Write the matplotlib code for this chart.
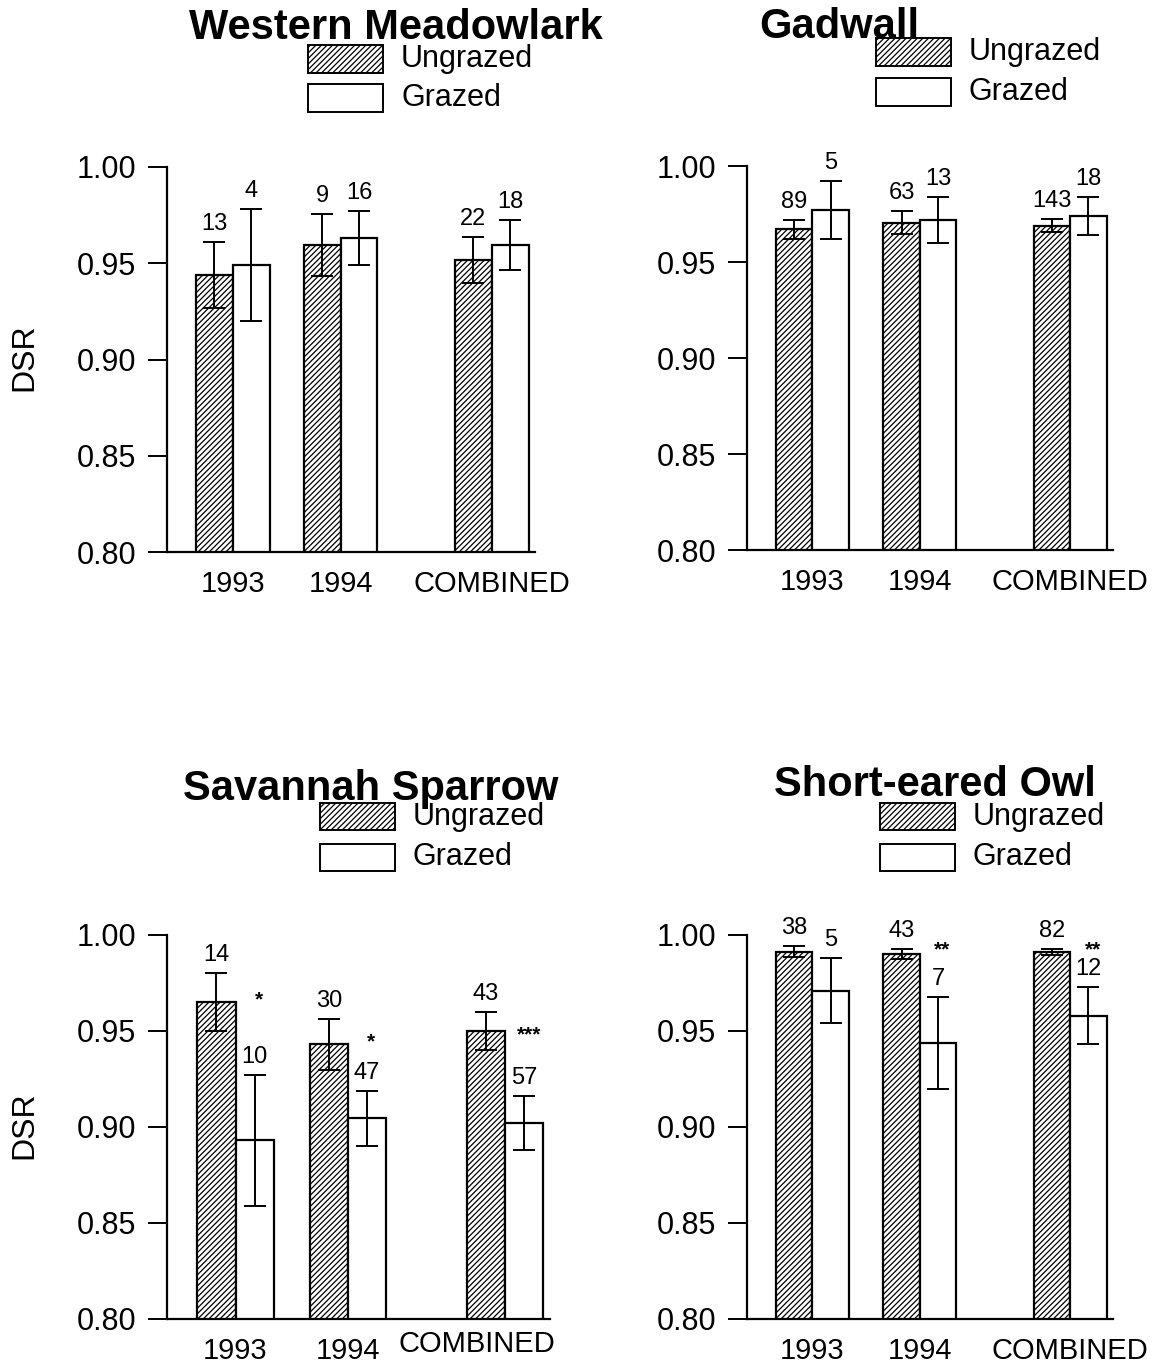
import numpy as np
import matplotlib
matplotlib.use("Agg")
import matplotlib.pyplot as plt
import matplotlib.transforms as mtransforms
from matplotlib.patches import Rectangle

plt.rcParams['font.family'] = ['Liberation Sans', 'DejaVu Sans']
plt.rcParams['hatch.linewidth'] = 0.9

# data
groups = ['1993', '1994', 'COMBINED']
titles = ['Western Meadowlark', 'Gadwall', 'Savannah Sparrow', 'Short-eared Owl']

ungrazed = [
    [0.944, 0.9595, 0.9515],
    [0.967, 0.9705, 0.969],
    [0.965, 0.943, 0.950],
    [0.9913, 0.990, 0.991],
]
ungrazed_se = [
    [0.017, 0.016, 0.012],
    [0.005, 0.006, 0.0035],
    [0.015, 0.0135, 0.010],
    [0.003, 0.0026, 0.0016],
]
grazed = [
    [0.949, 0.963, 0.9595],
    [0.977, 0.972, 0.974],
    [0.893, 0.9045, 0.902],
    [0.971, 0.9436, 0.958],
]
grazed_se = [
    [0.029, 0.014, 0.013],
    [0.015, 0.012, 0.010],
    [0.034, 0.0145, 0.014],
    [0.017, 0.024, 0.015],
]
n_ungrazed = [[13, 9, 22], [89, 63, 143], [14, 30, 43], [38, 43, 82]]
n_grazed = [[4, 16, 18], [5, 13, 18], [10, 47, 57], [5, 7, 12]]

# significance marks and where they sit
stars = [['', '', ''], ['', '', ''], ['*', '*', '***'], ['', '**', '**']]
star_y = [[0, 0, 0], [0, 0, 0], [0.969, 0.947, 0.951], [0, 0.9953, 0.9953]]

# layout (pixels in the 1158x1365 picture)
W, H = 1158, 1365
axes_px = [(167, 167, 535, 552), (747, 166, 1113, 550),
           (167, 935, 550, 1319), (747, 935, 1113, 1319)]
title_px = [(396, 39), (839, 38), (371, 800), (935, 796)]
legend_px = [(308, 59, 98), (876, 52, 92), (320, 817, 857), (880, 817, 857)]
dsr_px = [(24, 357), None, (24, 1125), None]

x = np.array([1.0, 2.0, 3.4])
w = 0.34

fig = plt.figure(figsize=(W / 100, H / 100), dpi=100)

for i in range(4):
    l, t, r, b = axes_px[i]
    ax = fig.add_axes([l / W, 1 - b / H, (r - l) / W, (b - t) / H])

    ax.bar(x - w / 2, ungrazed[i], w, color='white', edgecolor='black',
           hatch='//////', linewidth=1.6)
    ax.bar(x + w / 2, grazed[i], w, color='white', edgecolor='black',
           linewidth=1.6)
    ax.errorbar(x - w / 2, ungrazed[i], yerr=ungrazed_se[i], fmt='none',
                ecolor='black', elinewidth=1.4, capsize=8, capthick=1.4)
    ax.errorbar(x + w / 2, grazed[i], yerr=grazed_se[i], fmt='none',
                ecolor='black', elinewidth=1.4, capsize=8, capthick=1.4)

    # sample sizes above the error bars
    for j in range(3):
        ax.annotate(str(n_ungrazed[i][j]), (x[j] - w / 2, ungrazed[i][j] + ungrazed_se[i][j]),
                    xytext=(0, 5), textcoords='offset points', ha='center', va='bottom',
                    fontsize=17)
        ax.annotate(str(n_grazed[i][j]), (x[j] + w / 2, grazed[i][j] + grazed_se[i][j]),
                    xytext=(0, 5), textcoords='offset points', ha='center', va='bottom',
                    fontsize=17)
        if stars[i][j]:
            ax.annotate(stars[i][j], (x[j] + w / 2 + 0.04, star_y[i][j]),
                        xytext=(0, -4), textcoords='offset points', ha='center',
                        va='center', fontsize=15, fontweight='bold')

    ax.set_xlim(0.39, 3.8)
    ax.set_ylim(0.80, 1.00)
    ax.set_yticks([0.80, 0.85, 0.90, 0.95, 1.00])
    ax.set_yticklabels(['%.2f' % v for v in [0.80, 0.85, 0.90, 0.95, 1.00]])
    ax.set_xticks(x)
    ax.set_xticklabels(groups)
    ax.tick_params(axis='y', direction='out', length=14, width=1.4, pad=8, labelsize=22)
    ax.tick_params(axis='x', length=0, pad=13, labelsize=21)
    for s in ['top', 'right']:
        ax.spines[s].set_visible(False)
    for s in ['left', 'bottom']:
        ax.spines[s].set_linewidth(1.6)

    if i == 2:
        # the COMBINED label sits a bit left and higher in this panel
        lab = ax.get_xticklabels()[2]
        lab.set_transform(lab.get_transform() +
                          mtransforms.ScaledTranslation(-0.28, 0.07, fig.dpi_scale_trans))

    if dsr_px[i] is not None:
        dx, dy = dsr_px[i]
        fig.text(dx / W, 1 - dy / H, 'DSR', rotation=90, ha='center', va='center',
                 fontsize=23)

    # title
    tx, ty = title_px[i]
    fig.text(tx / W, 1 - ty / H, titles[i], ha='center', va='baseline',
             fontsize=30, fontweight='bold')

    # legend drawn by hand, as in the original
    bx, y1, y2 = legend_px[i]
    for yc, hatch, lab in [(y1, '//////', 'Ungrazed'), (y2, None, 'Grazed')]:
        rect = Rectangle((bx / W, 1 - (yc + 13.5) / H), 75 / W, 27 / H,
                         transform=fig.transFigure, facecolor='white',
                         edgecolor='black', hatch=hatch, linewidth=1.4)
        fig.add_artist(rect)
        fig.text((bx + 93) / W, 1 - yc / H, lab, ha='left', va='center', fontsize=22)

fig.savefig('out.png', dpi=100, facecolor='white')
